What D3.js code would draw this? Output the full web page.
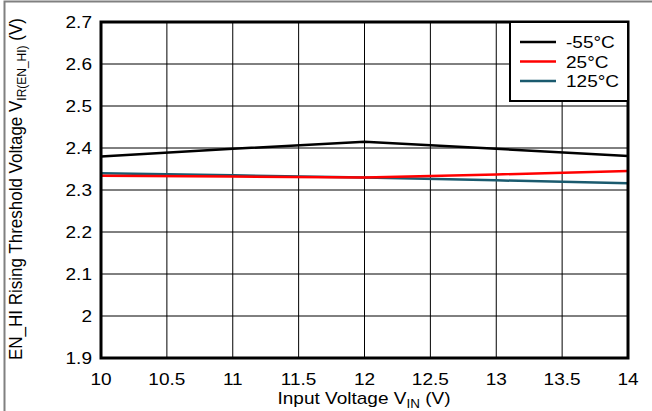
<!DOCTYPE html>
<html>
<head>
<meta charset="utf-8">
<script src="https://cdn.jsdelivr.net/npm/d3@7"></script>
<style>
  body { margin: 0; background: #fff; }
  svg { display: block; font-family: "Liberation Sans", Arial, sans-serif; }
</style>
</head>
<body>
<svg id="chart" width="652" height="411"></svg>
<script>
// input voltage points (V)
const vin = [10, 11, 12, 13, 14];
// threshold voltage per temperature
const tMinus55 = [2.38, 2.398, 2.415, 2.398, 2.381];
const t25 = [2.334, 2.332, 2.33, 2.337, 2.345];
const t125 = [2.34, 2.335, 2.33, 2.323, 2.316];

const seriesNames = ['-55°C', '25°C', '125°C'];
const seriesColors = ['#000000', '#ff0000', '#1a5a6e'];
const xTicks = [10, 10.5, 11, 11.5, 12, 12.5, 13, 13.5, 14];
const yTicks = [1.9, 2, 2.1, 2.2, 2.3, 2.4, 2.5, 2.6, 2.7];

const svg = d3.select('#chart');
const m = { left: 101, top: 22, right: 628, bottom: 358 };
const fs = 17;
const sx = 1.12; // the picture's text is a bit wide

const x = d3.scaleLinear().domain([10, 14]).range([m.left, m.right]);
const y = d3.scaleLinear().domain([1.9, 2.7]).range([m.bottom, m.top]);

const at = (px, py) => `translate(${px},${py}) scale(${sx},1)`;

// outer frame (only left/top show in the picture)
svg.append('path')
  .attr('d', 'M4.5,411 L4.5,1.5 L652,1.5')
  .attr('fill', 'none')
  .attr('stroke', '#808080')
  .attr('stroke-width', 2);

// grid
const grid = svg.append('g');
grid.selectAll('line.v').data(xTicks.slice(1, -1)).enter().append('line')
  .attr('x1', d => x(d)).attr('x2', d => x(d))
  .attr('y1', m.top).attr('y2', m.bottom)
  .attr('stroke', '#000').attr('stroke-width', 1);
grid.selectAll('line.h').data(yTicks.slice(1, -1)).enter().append('line')
  .attr('x1', m.left).attr('x2', m.right)
  .attr('y1', d => y(d)).attr('y2', d => y(d))
  .attr('stroke', '#000').attr('stroke-width', 1);

// tick labels
svg.append('g').selectAll('text').data(yTicks).enter().append('text')
  .attr('transform', d => at(m.left - 9, y(d) + 6))
  .attr('text-anchor', 'end').attr('font-size', fs)
  .text(d => d3.format('')(d));
svg.append('g').selectAll('text').data(xTicks).enter().append('text')
  .attr('transform', d => at(x(d), m.bottom + 27))
  .attr('text-anchor', 'middle').attr('font-size', fs)
  .text(d => d);

// lines
const all = [tMinus55, t25, t125];
const line = d3.line().x((d, i) => x(vin[i])).y(d => y(d));
svg.append('g').selectAll('path').data([2, 1, 0]).enter().append('path')
  .attr('d', i => line(all[i]))
  .attr('fill', 'none')
  .attr('stroke', i => seriesColors[i])
  .attr('stroke-width', 2.5);

// plot border
svg.append('rect')
  .attr('x', m.left).attr('y', m.top)
  .attr('width', m.right - m.left).attr('height', m.bottom - m.top)
  .attr('fill', 'none').attr('stroke', '#000').attr('stroke-width', 3);

// legend
const lg = svg.append('g');
lg.append('rect')
  .attr('x', 510).attr('y', m.top).attr('width', m.right - 510).attr('height', 79)
  .attr('fill', '#fff').attr('stroke', '#000').attr('stroke-width', 2);
seriesNames.forEach((name, i) => {
  const yy = 42 + i * 19.5;
  lg.append('line')
    .attr('x1', 520).attr('x2', 556).attr('y1', yy).attr('y2', yy)
    .attr('stroke', seriesColors[i]).attr('stroke-width', 2.5);
  lg.append('text')
    .attr('transform', at(566, yy + 6)).attr('font-size', fs)
    .text(name);
});

// x axis title
const xt = svg.append('text')
  .attr('transform', at(364, 404))
  .attr('text-anchor', 'middle').attr('font-size', fs);
xt.append('tspan').text('Input Voltage V');
xt.append('tspan').attr('font-size', 12).attr('dy', 4).text('IN');
xt.append('tspan').attr('dy', -4).text(' (V)');

// y axis title
const yt = svg.append('text')
  .attr('transform', `translate(22,189) scale(${sx},1) rotate(-90)`)
  .attr('text-anchor', 'middle').attr('font-size', fs);
yt.append('tspan').text('EN_HI Rising Threshold Voltage V');
yt.append('tspan').attr('font-size', 12).attr('dy', 4).text('IR(EN_HI)');
yt.append('tspan').attr('dy', -4).text(' (V)');
</script>
</body>
</html>
